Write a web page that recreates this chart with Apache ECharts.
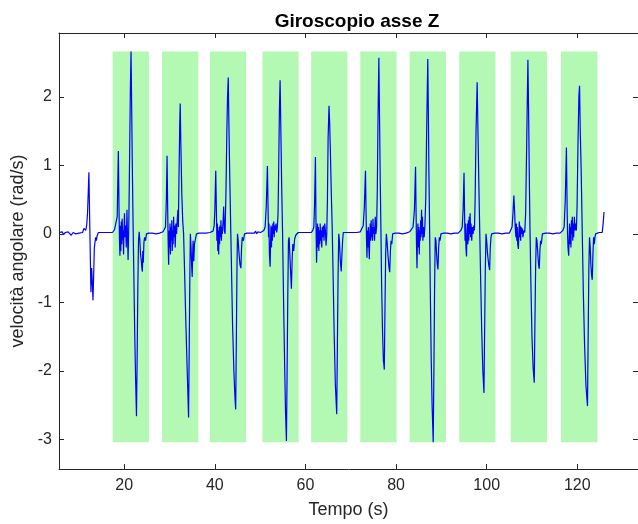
<!DOCTYPE html>
<html>
<head>
<meta charset="utf-8">
<script src="https://cdn.jsdelivr.net/npm/echarts@6/dist/echarts.min.js"></script>
<style>
  html, body { margin: 0; padding: 0; background: #ffffff; }
  #chart { width: 638px; height: 524px; }
</style>
</head>
<body>
<div id="chart"></div>
<script>
// Gyroscope Z-axis angular velocity [time (s), rad/s], split by rest / movement phases
const riposo0 = [[5.6,0.02],[6.0,0.01],[6.3,0.03],[6.6,-0.01],[7.0,0.02],[7.3,0.0],[7.6,0.03],[8.0,0.01],[8.3,-0.02],[8.7,0.02],[9.0,0.04],[9.3,0.0],[9.7,0.02],[10.0,0.01],[10.4,0.03],[10.8,0.02],[11.1,0.08],[11.3,0.1],[11.5,0.05],[11.7,0.12],[11.9,0.3],[12.05,0.6],[12.2,0.9],[12.35,0.3],[12.5,-0.3],[12.65,-0.85],[12.8,-0.5],[12.95,-0.7],[13.1,-0.97],[13.25,-0.6],[13.4,-0.2],[13.55,-0.12],[13.7,-0.05],[13.85,-0.1],[14.0,-0.03],[14.3,0.02],[14.7,0.01],[15.0,0.02],[15.4,0.0],[15.8,0.02],[16.2,0.01],[16.6,0.02],[17.0,0.03],[17.4,0.02]];
const mov1 = [[17.6,0.02],[17.85,0.06],[18.2,0.07],[18.45,0.25],[18.7,1.21],[18.85,0.35],[18.95,-0.1],[19.05,-0.32],[19.15,0.12],[19.25,-0.25],[19.35,0.18],[19.45,-0.15],[19.55,0.22],[19.65,-0.08],[19.75,0.05],[19.85,-0.3],[19.95,0.08],[20.05,0.3],[20.15,-0.05],[20.3,0.12],[20.45,-0.2],[20.6,0.35],[20.7,0.02],[20.85,-0.38],[21.0,0.1],[21.2,1.2],[21.35,2.1],[21.5,2.66],[21.65,1.8],[21.8,0.9],[21.95,0.15],[22.1,-0.5],[22.3,-1.4],[22.5,-2.1],[22.7,-2.66],[22.85,-1.8],[23.0,-0.8],[23.15,-0.1],[23.3,0.03],[23.45,-0.1],[23.6,-0.3],[23.75,-0.38],[23.9,-0.5],[24.0,-0.55],[24.1,-0.25],[24.2,-0.42],[24.35,-0.12],[24.5,-0.05],[24.7,-0.1],[24.9,0.0],[25.1,0.02]];
const riposo1 = [[25.4,0.01],[25.8,0.02],[26.2,0.01],[26.6,0.02],[27.0,0.0],[27.4,0.02],[27.8,0.01],[28.2,0.02]];
const mov2 = [[28.55,0.03],[28.8,0.06],[29.1,0.1],[29.3,0.5],[29.45,1.14],[29.6,0.3],[29.7,-0.15],[29.8,-0.45],[29.9,0.05],[30.0,-0.2],[30.1,0.15],[30.2,-0.3],[30.3,0.1],[30.4,-0.1],[30.5,0.2],[30.6,-0.25],[30.7,0.05],[30.8,-0.15],[30.9,0.25],[31.0,-0.05],[31.1,0.12],[31.25,-0.2],[31.4,0.15],[31.55,0.0],[31.7,0.2],[31.85,0.35],[31.95,0.1],[32.1,0.9],[32.25,1.6],[32.35,1.9],[32.5,1.3],[32.7,0.6],[32.9,0.2],[33.1,0.0],[33.3,-0.5],[33.6,-1.3],[33.9,-2.0],[34.2,-2.68],[34.35,-1.6],[34.5,-0.5],[34.6,0.0],[34.75,-0.2],[34.9,-0.5],[35.0,-0.63],[35.1,-0.3],[35.2,-0.1],[35.35,-0.4],[35.5,-0.15],[35.7,-0.08],[35.95,0.0],[36.2,0.02]];
const riposo2 = [[36.5,0.01],[36.9,0.02],[37.3,0.01],[37.7,0.02],[38.1,0.01],[38.5,0.02],[38.9,0.02],[39.3,0.01]];
const mov3 = [[39.6,0.04],[39.85,0.12],[40.0,0.35],[40.2,0.92],[40.35,0.3],[40.45,-0.1],[40.55,0.15],[40.65,-0.25],[40.75,0.05],[40.85,-0.3],[40.95,0.1],[41.05,-0.15],[41.15,0.12],[41.25,-0.05],[41.35,0.2],[41.45,-0.1],[41.55,0.1],[41.65,0.0],[41.8,0.15],[41.95,0.4],[42.1,0.05],[42.25,0.0],[42.45,0.6],[42.65,1.5],[42.8,2.0],[42.96,2.28],[43.1,1.6],[43.3,0.8],[43.5,0.1],[43.7,-0.6],[43.9,-1.3],[44.2,-2.0],[44.45,-2.4],[44.6,-2.56],[44.75,-1.5],[44.9,-0.4],[45.0,0.0],[45.15,-0.1],[45.35,-0.3],[45.55,-0.45],[45.75,-0.5],[45.9,-0.2],[46.05,-0.05],[46.3,-0.1],[46.55,0.0],[46.8,0.02]];
const riposo3 = [[47.1,0.01],[47.5,0.02],[47.9,0.01],[48.3,0.03],[48.7,0.01],[49.0,0.04],[49.2,0.0],[49.5,0.03],[49.8,0.01],[50.1,0.02]];
const mov4 = [[50.5,0.03],[50.8,0.05],[51.1,0.1],[51.35,0.4],[51.6,0.99],[51.75,0.35],[51.85,-0.05],[51.95,0.15],[52.05,-0.3],[52.2,-0.48],[52.3,-0.1],[52.4,0.12],[52.5,-0.2],[52.6,0.1],[52.7,-0.1],[52.8,0.15],[52.9,0.0],[53.0,0.18],[53.1,-0.05],[53.2,0.12],[53.35,0.05],[53.5,0.15],[53.65,0.02],[53.8,0.1],[53.95,0.3],[54.1,1.0],[54.25,1.8],[54.4,2.24],[54.55,1.6],[54.75,0.7],[54.95,0.0],[55.15,-0.9],[55.4,-1.9],[55.6,-2.6],[55.8,-3.02],[55.95,-2.0],[56.1,-0.9],[56.25,-0.1],[56.4,-0.05],[56.55,-0.3],[56.75,-0.6],[56.9,-0.8],[57.05,-0.4],[57.2,-0.15],[57.4,-0.25],[57.6,-0.08],[57.85,-0.02],[58.1,0.0]];
const riposo4 = [[58.4,0.02],[58.8,0.03],[59.2,0.02],[59.6,0.01],[60.0,0.02],[60.4,0.0],[60.8,0.02]];
const mov5 = [[61.3,0.02],[61.6,0.05],[61.85,0.1],[62.0,0.4],[62.2,1.12],[62.32,0.2],[62.45,-0.42],[62.55,-0.1],[62.65,0.15],[62.75,-0.2],[62.85,0.1],[62.95,-0.25],[63.05,0.05],[63.15,-0.15],[63.25,0.15],[63.35,-0.1],[63.45,0.05],[63.6,-0.2],[63.7,0.1],[63.8,-0.05],[63.95,0.12],[64.1,-0.1],[64.25,0.15],[64.4,0.05],[64.55,-0.17],[64.7,0.0],[64.85,0.5],[65.0,1.4],[65.2,1.87],[65.35,1.6],[65.5,1.2],[65.7,0.6],[65.9,0.1],[66.1,-0.6],[66.35,-1.5],[66.6,-2.2],[66.9,-2.63],[67.05,-1.6],[67.2,-0.6],[67.35,0.0],[67.5,-0.1],[67.7,-0.4],[67.9,-0.55],[68.05,-0.3],[68.2,-0.1],[68.35,0.02],[68.6,0.0]];
const riposo5 = [[68.9,0.02],[69.3,0.01],[69.7,0.02],[70.1,0.0],[70.5,0.02],[70.9,0.01],[71.3,0.02],[71.7,0.01]];
const mov6 = [[72.1,0.03],[72.45,0.05],[72.75,0.12],[73.0,0.4],[73.25,0.92],[73.38,0.3],[73.48,-0.1],[73.58,-0.35],[73.68,0.05],[73.78,-0.2],[73.88,0.1],[73.98,-0.15],[74.1,-0.37],[74.2,0.0],[74.3,0.15],[74.4,-0.1],[74.5,0.2],[74.6,-0.05],[74.7,0.1],[74.8,-0.1],[74.9,0.22],[75.0,0.0],[75.1,0.1],[75.25,-0.1],[75.4,0.25],[75.55,0.0],[75.7,0.1],[75.85,0.6],[76.0,1.6],[76.2,2.57],[76.35,1.7],[76.5,0.8],[76.65,0.1],[76.8,-0.7],[77.0,-1.4],[77.2,-1.85],[77.3,-1.9],[77.4,-1.98],[77.55,-1.1],[77.7,-0.3],[77.85,0.0],[78.0,-0.1],[78.2,-0.3],[78.45,-0.5],[78.6,-0.56],[78.75,-0.25],[78.9,-0.1],[79.05,-0.15],[79.25,0.0],[79.5,0.02]];
const riposo6 = [[79.8,0.01],[80.2,0.02],[80.6,0.01],[81.0,0.02],[81.4,0.0],[81.8,0.02],[82.2,0.01],[82.6,0.02]];
const mov7 = [[83.0,0.03],[83.4,0.05],[83.75,0.1],[84.05,0.35],[84.3,0.98],[84.42,0.3],[84.52,-0.2],[84.62,-0.5],[84.72,-0.1],[84.82,0.15],[84.92,-0.2],[85.02,0.1],[85.12,-0.3],[85.22,0.05],[85.32,-0.1],[85.42,0.2],[85.52,-0.05],[85.62,0.35],[85.72,0.0],[85.82,0.25],[85.92,-0.1],[86.05,0.1],[86.2,-0.05],[86.35,0.1],[86.55,0.5],[86.75,1.5],[87.0,2.55],[87.12,1.8],[87.25,0.9],[87.4,0.1],[87.55,-0.8],[87.75,-1.8],[87.95,-2.5],[88.2,-3.04],[88.35,-2.0],[88.5,-0.8],[88.65,-0.05],[88.8,-0.1],[88.95,-0.3],[89.1,-0.45],[89.25,-0.52],[89.4,-0.2],[89.55,-0.05],[89.7,-0.1],[89.9,0.0],[90.2,0.02]];
const riposo7 = [[90.5,0.01],[90.9,0.02],[91.3,0.01],[91.7,0.02],[92.1,0.0],[92.5,0.02],[92.9,0.01],[93.3,0.02],[93.7,0.01]];
const mov8 = [[94.0,0.03],[94.3,0.05],[94.6,0.1],[94.8,0.35],[95.0,0.89],[95.12,0.3],[95.22,-0.1],[95.32,0.15],[95.42,-0.2],[95.55,-0.33],[95.65,0.0],[95.75,0.15],[95.85,-0.15],[95.95,0.2],[96.05,-0.1],[96.15,0.25],[96.25,0.0],[96.35,0.3],[96.45,-0.05],[96.55,0.15],[96.7,-0.1],[96.85,0.1],[97.0,0.0],[97.15,0.12],[97.3,0.05],[97.45,0.5],[97.65,1.5],[97.9,2.21],[98.05,1.6],[98.25,0.8],[98.45,0.1],[98.65,-0.6],[98.9,-1.4],[99.15,-2.0],[99.4,-2.32],[99.55,-1.4],[99.7,-0.5],[99.85,0.0],[100.0,-0.1],[100.2,-0.3],[100.45,-0.45],[100.65,-0.53],[100.8,-0.2],[100.95,-0.05],[101.1,0.0],[101.4,0.02]];
const riposo8 = [[101.8,0.01],[102.2,0.02],[102.6,0.01],[103.0,0.02],[103.4,0.0],[103.8,0.02],[104.2,0.01],[104.6,0.02],[105.0,0.01]];
const mov9 = [[105.35,0.03],[105.6,0.1],[105.8,0.3],[106.0,0.56],[106.15,0.35],[106.3,0.1],[106.45,-0.05],[106.55,0.15],[106.65,-0.1],[106.75,0.1],[106.85,-0.15],[107.0,-0.22],[107.1,0.0],[107.2,0.18],[107.3,-0.05],[107.4,0.12],[107.5,-0.1],[107.6,0.1],[107.7,0.0],[107.85,0.08],[108.0,-0.05],[108.2,0.05],[108.4,0.02],[108.6,0.3],[108.85,1.4],[109.1,2.54],[109.25,1.8],[109.4,0.9],[109.55,0.1],[109.75,-0.7],[110.0,-1.5],[110.25,-1.95],[110.5,-2.17],[110.65,-1.3],[110.8,-0.5],[110.95,-0.05],[111.1,-0.1],[111.3,-0.3],[111.45,-0.45],[111.6,-0.51],[111.75,-0.25],[111.9,-0.1],[112.05,-0.15],[112.3,0.0],[112.6,0.02]];
const riposo9 = [[113.0,0.01],[113.4,0.02],[113.8,0.01],[114.2,0.02],[114.6,0.0],[115.0,0.02],[115.4,0.01],[115.8,0.02],[116.2,0.01]];
const mov10 = [[116.5,0.03],[116.8,0.05],[117.1,0.1],[117.35,0.5],[117.6,1.26],[117.75,0.4],[117.85,0.0],[117.95,-0.2],[118.1,-0.32],[118.2,-0.05],[118.3,0.15],[118.4,-0.15],[118.5,0.1],[118.6,-0.2],[118.7,0.2],[118.8,0.0],[118.9,0.25],[119.0,-0.1],[119.1,0.15],[119.2,-0.05],[119.35,0.25],[119.5,0.05],[119.65,0.15],[119.8,0.05],[119.95,0.4],[120.15,1.3],[120.35,2.0],[120.5,2.16],[120.65,1.5],[120.8,1.1],[120.95,0.6],[121.1,0.0],[121.35,-0.9],[121.6,-1.6],[121.9,-2.2],[122.25,-2.51],[122.4,-1.5],[122.55,-0.5],[122.7,-0.05],[122.85,-0.2],[123.0,-0.45],[123.15,-0.6],[123.3,-0.67],[123.45,-0.3],[123.6,-0.05],[123.75,-0.15],[123.9,-0.05],[124.05,0.0],[124.4,0.01],[124.8,0.02],[125.2,0.01],[125.5,0.02],[125.7,0.15],[125.9,0.32]];

// Movement windows (s)
const bandaInizio = [17.45, 28.35, 38.9, 50.5, 61.25, 72.1, 83.0, 93.95, 105.3, 116.4];
const bandaFine   = [25.45, 36.35, 46.9, 58.5, 69.25, 80.1, 91.0, 101.95, 113.3, 124.45];

// Axis ticks
const tickX = [20, 40, 60, 80, 100, 120];
const tickY = [-3, -2, -1, 0, 1, 2];

const segnale = [].concat(riposo0, mov1, riposo1, mov2, riposo2, mov3, riposo3, mov4, riposo4,
  mov5, riposo5, mov6, riposo6, mov7, riposo7, mov8, riposo8, mov9, riposo9, mov10);

// Windows span the full range of the signal
const vMin = Math.min(...segnale.map(p => p[1]));
const vMax = Math.max(...segnale.map(p => p[1]));
const aree = bandaInizio.map((s, i) => [
  { xAxis: s, yAxis: vMin },
  { xAxis: bandaFine[i], yAxis: vMax }
]);

const FONT = '"Liberation Sans", Arial, Helvetica, sans-serif';
const AX = '#262626';

const chart = echarts.init(document.getElementById('chart'), null, { renderer: 'canvas' });

const xCommon = {
  type: 'value', min: 5.6, max: 133.4,
  splitLine: { show: false },
  axisLine: { show: true, onZero: false, lineStyle: { color: AX, width: 1 } },
  axisTick: { show: true, inside: true, length: 5, customValues: tickX, lineStyle: { color: AX } }
};
const yCommon = {
  type: 'value', min: -3.43, max: 2.93,
  splitLine: { show: false },
  axisLine: { show: true, onZero: false, lineStyle: { color: AX, width: 1 } },
  axisTick: { show: true, inside: true, length: 5, customValues: tickY, lineStyle: { color: AX } }
};

chart.setOption({
  animation: false,
  backgroundColor: '#ffffff',
  title: {
    text: 'Giroscopio asse Z',
    left: 352, top: 7, textAlign: 'center',
    textStyle: { fontFamily: FONT, fontSize: 19, fontWeight: 'bold', color: '#000000' }
  },
  grid: { left: 59, top: 33, width: 586, height: 438.5, containLabel: false },
  xAxis: [
    Object.assign({}, xCommon, {
      position: 'bottom',
      axisLabel: { show: true, customValues: tickX, margin: 9, color: AX, fontFamily: FONT, fontSize: 16 },
      name: 'Tempo (s)', nameLocation: 'middle', nameGap: 32,
      nameTextStyle: { fontFamily: FONT, fontSize: 18, color: AX }
    }),
    Object.assign({}, xCommon, { position: 'top', axisLabel: { show: false } })
  ],
  yAxis: [
    Object.assign({}, yCommon, {
      position: 'left',
      axisLabel: { show: true, customValues: tickY, margin: 7, color: AX, fontFamily: FONT, fontSize: 16 },
      name: 'velocità angolare (rad/s)', nameLocation: 'middle', nameGap: 27,
      nameTextStyle: { fontFamily: FONT, fontSize: 18, color: AX }
    }),
    Object.assign({}, yCommon, { position: 'right', axisLabel: { show: false } })
  ],
  series: [{
    type: 'line',
    xAxisIndex: 0, yAxisIndex: 0,
    data: segnale,
    showSymbol: false,
    sampling: null,
    z: 3,
    lineStyle: { color: '#0000ff', width: 1.2 },
    markArea: {
      silent: true,
      z: 1,
      itemStyle: { color: '#b3f8b3', opacity: 1 },
      label: { show: false },
      data: aree
    }
  }]
});
</script>
</body>
</html>
